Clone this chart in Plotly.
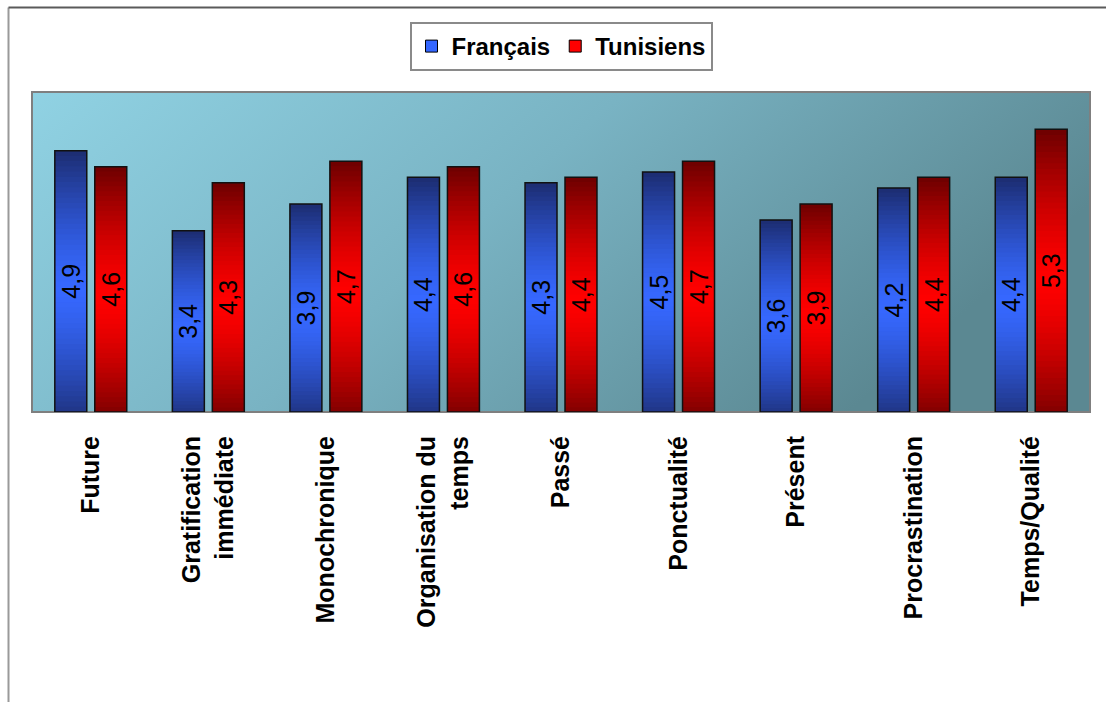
import base64
import plotly.graph_objects as go

# ---------------- data ----------------
categories = ["Future", "Gratification<br>immédiate", "Monochronique",
              "Organisation du<br>temps", "Passé", "Ponctualité", "Présent",
              "Procrastination", "Temps/Qualité"]
francais = [4.9, 3.4, 3.9, 4.4, 4.3, 4.5, 3.6, 4.2, 4.4]
tunisiens = [4.6, 4.3, 4.7, 4.6, 4.4, 4.7, 3.9, 4.4, 5.3]
series_names = ["Français", "Tunisiens"]

# ---------------- style ----------------
N_SLICES = 50
OVERLAP = 1.8
BLUE_DARK, BLUE_BRIGHT = (28, 44, 112), (54, 104, 255)
RED_DARK, RED_BRIGHT = (108, 0, 0), (255, 0, 0)
FONT = "Liberation Sans, Arial, sans-serif"

W, H = 1106, 702
L, R, T, B = 32, 16, 92, 290
pw, ph = W - L - R, H - T - B


def px2paper_x(px):
    return (px - L) / pw


def px2paper_y(py):
    return (H - B - py) / ph


def grad_color(dark, bright, t):
    c = 0.47
    d = min(1.0, abs(t - c) / 0.53)
    f = 1 - d ** 1.4
    r, g, b = (int(round(dk + (br - dk) * f)) for dk, br in zip(dark, bright))
    return f"rgb({r},{g},{b})"


def fmt(v):
    return f"{v:.1f}".replace(".", ",")


fig = go.Figure()

series = [("fr", francais, BLUE_DARK, BLUE_BRIGHT, "#3366ff"),
          ("tn", tunisiens, RED_DARK, RED_BRIGHT, "#ff0000")]

# legend entries
for (grp, vals, dark, bright, legc), name in zip(series, series_names):
    fig.add_trace(go.Bar(
        x=categories, y=[None] * len(categories), name=name,
        offsetgroup=grp, marker=dict(color=legc, line=dict(color="#000000", width=1)),
        hoverinfo="skip", showlegend=True))

# gradient slices (each slice slightly overlaps the next one to hide seams)
for grp, vals, dark, bright, legc in series:
    for k in range(N_SLICES):
        t = (k + 0.5) / N_SLICES
        factor = 1.0 if k == N_SLICES - 1 else OVERLAP
        fig.add_trace(go.Bar(
            x=categories,
            y=[v / N_SLICES * factor for v in vals],
            base=[v * k / N_SLICES for v in vals],
            offsetgroup=grp,
            marker=dict(color=grad_color(dark, bright, t), line=dict(width=0)),
            hoverinfo="skip", showlegend=False))

# outlines + labels
for grp, vals, dark, bright, legc in series:
    fig.add_trace(go.Bar(
        x=categories, y=vals, base=[0] * len(vals), offsetgroup=grp,
        marker=dict(color="rgba(0,0,0,0)", line=dict(color="#111111", width=1.5)),
        text=[fmt(v) for v in vals], textposition="inside",
        insidetextanchor="middle", textangle=-90, constraintext="none",
        textfont=dict(family=FONT, size=25, color="#000000"),
        hoverinfo="skip", showlegend=False))

svg = ('<svg xmlns="http://www.w3.org/2000/svg" width="100" height="100" '
       'viewBox="0 0 100 100" preserveAspectRatio="none"><defs>'
       '<linearGradient id="g" x1="0" y1="0" x2="1" y2="0.35">'
       '<stop offset="0" stop-color="#90d2e3"/>'
       '<stop offset="0.5" stop-color="#79b3c3"/>'
       '<stop offset="1" stop-color="#5b8892"/>'
       '</linearGradient></defs>'
       '<rect width="100" height="100" fill="url(#g)"/></svg>')
svg_uri = "data:image/svg+xml;base64," + base64.b64encode(svg.encode()).decode()

fig.update_layout(
    width=W, height=H,
    margin=dict(l=L, r=R, t=T, b=B, autoexpand=False),
    paper_bgcolor="#ffffff", plot_bgcolor="rgba(0,0,0,0)",
    barmode="group", bargap=0.32, bargroupgap=0.2,
    font=dict(family=FONT, color="#000000"),
    legend=dict(orientation="h", x=0.5, xanchor="center",
                y=px2paper_y(22), yanchor="top",
                bgcolor="#ffffff", bordercolor="#8a8a8a", borderwidth=2,
                font=dict(family=FONT, size=24, weight="bold", color="#000000"),
                traceorder="normal"),
    xaxis=dict(showgrid=False, zeroline=False, showline=False, ticks="",
               tickangle=-90, ticklabelstandoff=18, automargin=False,
               tickfont=dict(family=FONT, size=25, weight="bold", color="#000000")),
    yaxis=dict(range=[0, 6], visible=False, showgrid=False, zeroline=False),
    images=[dict(source=svg_uri, xref="paper", yref="paper", x=0, y=1,
                 sizex=1, sizey=1, sizing="stretch", xanchor="left",
                 yanchor="top", layer="below")],
    shapes=[
        dict(type="rect", xref="paper", yref="paper", x0=0, y0=0, x1=1, y1=1,
             line=dict(color="#7f7f7f", width=2), layer="below"),
        dict(type="line", xref="paper", yref="paper",
             x0=px2paper_x(8.5), x1=px2paper_x(8.5),
             y0=px2paper_y(702), y1=px2paper_y(7.5),
             line=dict(color="#9a9a9a", width=2)),
        dict(type="line", xref="paper", yref="paper",
             x0=px2paper_x(8.5), x1=px2paper_x(1106),
             y0=px2paper_y(7.5), y1=px2paper_y(7.5),
             line=dict(color="#5a5a5a", width=2)),
    ],
)

fig.write_html("out.html")
